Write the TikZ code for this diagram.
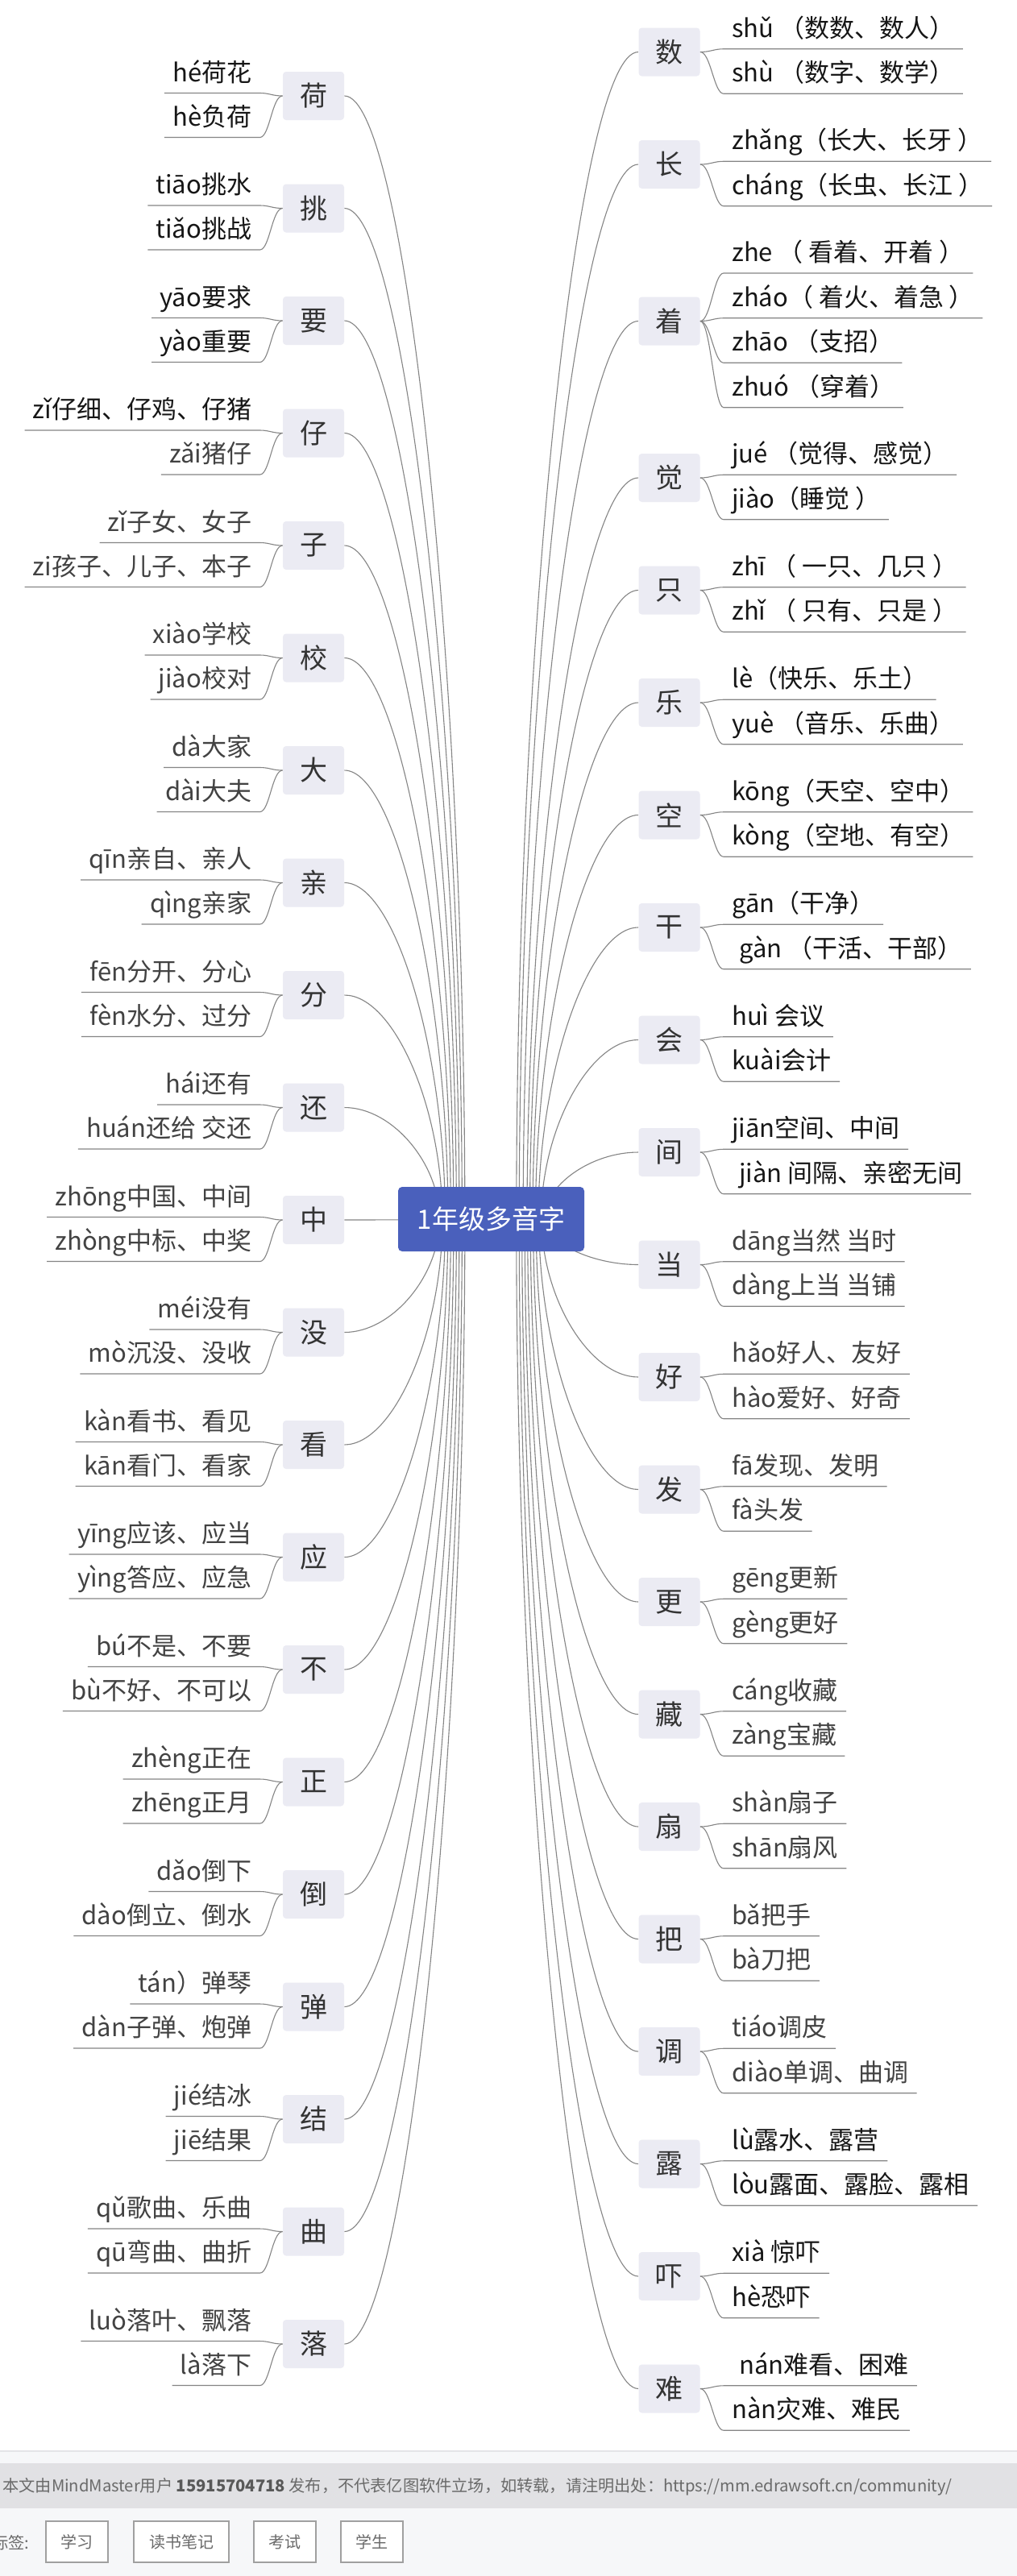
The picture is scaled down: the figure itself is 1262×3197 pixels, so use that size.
\documentclass[tikz,border=0pt]{standalone}
\usepackage{fontspec}
\setmainfont{Noto Sans CJK SC}
\usepackage{xcolor}
\usetikzlibrary{calc}
\usetikzlibrary{backgrounds}

\definecolor{boxfill}{HTML}{EBEBF3}
\definecolor{rootblue}{HTML}{4A60BC}
\definecolor{lineclr}{HTML}{858585}
\definecolor{chartext}{HTML}{333333}
\definecolor{inkA}{HTML}{161616}
\definecolor{inkB}{HTML}{424242}
\definecolor{footbg}{HTML}{F6F7F9}
\definecolor{footband}{HTML}{E1E1E4}
\definecolor{sepclr}{HTML}{E3E4E7}
\definecolor{tagline}{HTML}{A0A0A0}
\definecolor{footgrey}{HTML}{6A6A6A}

\newcommand{\leaffont}{\fontsize{15.5pt}{18pt}\selectfont}
\newcommand{\charfont}{\fontsize{17pt}{20pt}\selectfont}
\newcommand{\rootfont}{\fontsize{16.5pt}{20pt}\selectfont}
\newcommand{\footfont}{\fontsize{10.1pt}{12pt}\selectfont}

\tikzset{
  charbox/.style={fill=boxfill, rounded corners=2pt, minimum width=38pt, minimum height=30pt, inner sep=0pt, text=chartext, font=\charfont},
  rootbox/.style={fill=rootblue, rounded corners=2.5pt, minimum width=115.5pt, minimum height=40pt, inner sep=0pt, text=white, font=\rootfont},
  leaf/.style={inner xsep=5pt, inner ysep=7pt, text depth=0pt, font=\leaffont},
  leafline/.style={draw=lineclr, line width=0.55pt},
  mainline/.style={draw=lineclr, line width=0.55pt},
  tagbox/.style={draw=tagline, line width=0.85pt, fill=white, minimum height=25.5pt, inner sep=0pt, text=footgrey, font=\fontsize{10pt}{12pt}\selectfont},
  foottext/.style={inner sep=0pt, text=footgrey, font=\footfont}
}

% left character: name, y, character, upper reading, lower reading, colours
\newcommand{\leftchar}[7]{%
  \node[charbox] (#1) at (389,#2) {#3};
  \node[leaf, text=#6, anchor=south east] (#1-up) at ($(#1.west)+(-28,-3.5)$) {#4};
  \node[leaf, text=#7, anchor=south east] (#1-dn) at ($(#1.west)+(-28,51.5)$) {#5};
  \draw[leafline] (#1-up.south west) -- (#1-up.south east) .. controls +(12,0) and +(-13,0) .. (#1.west);
  \draw[leafline] (#1-dn.south west) -- (#1-dn.south east) .. controls +(12,0) and +(-13,0) .. (#1.west);
  \pgfmathsetmacro{\xstart}{542+0.025*abs(#2-1513)}
  \begin{scope}[on background layer]
    \draw[mainline] ($(root.center)+(\xstart-609.5,0)$) .. controls +(0,{(#2-1513)/2}) and +({(\xstart-427)/2},0) .. (#1.east);
  \end{scope}
}

% right character: main branch only
\newcommand{\rbranch}[2]{%
  \pgfmathsetmacro{\xstart}{677-0.025*abs(#2-1513)}
  \begin{scope}[on background layer]
    \draw[mainline] ($(root.center)+(\xstart-609.5,0)$) .. controls +(0,{(#2-1513)/2}) and +({-(793-\xstart)/2},0) .. (#1.west);
  \end{scope}
}

% right character: name, y, character, upper reading, lower reading, colours
\newcommand{\rightchar}[7]{%
  \node[charbox] (#1) at (830.5,#2) {#3};
  \node[leaf, text=#6, anchor=south west] (#1-up) at ($(#1.east)+(29,-3.75)$) {#4};
  \node[leaf, text=#7, anchor=south west] (#1-dn) at ($(#1.east)+(29,51.75)$) {#5};
  \draw[leafline] (#1.east) .. controls +(13,0) and +(-12,0) .. (#1-up.south west) -- (#1-up.south east);
  \draw[leafline] (#1.east) .. controls +(13,0) and +(-12,0) .. (#1-dn.south west) -- (#1-dn.south east);
  \rbranch{#1}{#2}
}

\begin{document}
\begin{tikzpicture}[x=0.5pt, y=-0.5pt]
		\useasboundingbox (0,0) rectangle (1262,3197);
		\clip (0,0) rectangle (1262,3197);
		\begin{scope}[on background layer]
			\fill[white] (0,0) rectangle (1262,3197);
		\end{scope}
		%
		%Mitte
		\node[rootbox] (root) at (609.5,1513) {1年级多音字};
		%
		%links
		\leftchar{he}{119}{荷}{hé荷花}{hè负荷}{inkA}{inkA}
		\leftchar{tiao}{258.5}{挑}{tiāo挑水}{tiǎo挑战}{inkA}{inkA}
		\leftchar{yao}{398}{要}{yāo要求}{yào重要}{inkA}{inkA}
		\leftchar{zai}{537.5}{仔}{zǐ仔细、仔鸡、仔猪}{zǎi猪仔}{inkA}{inkB}
		\leftchar{zi}{677}{子}{zǐ子女、女子}{zi孩子、儿子、本子}{inkB}{inkB}
		\leftchar{xiao}{816.5}{校}{xiào学校}{jiào校对}{inkB}{inkB}
		\leftchar{da}{956}{大}{dà大家}{dài大夫}{inkB}{inkB}
		\leftchar{qin}{1095.5}{亲}{qīn亲自、亲人}{qìng亲家}{inkB}{inkB}
		\leftchar{fen}{1235}{分}{fēn分开、分心}{fèn水分、过分}{inkB}{inkB}
		\leftchar{huan}{1374.5}{还}{hái还有}{huán还给 交还}{inkB}{inkB}
		\leftchar{zhong}{1514}{中}{zhōng中国、中间}{zhòng中标、中奖}{inkB}{inkB}
		\leftchar{mei}{1653.5}{没}{méi没有}{mò沉没、没收}{inkB}{inkB}
		\leftchar{kan}{1793}{看}{kàn看书、看见}{kān看门、看家}{inkB}{inkB}
		\leftchar{ying}{1932.5}{应}{yīng应该、应当}{yìng答应、应急}{inkB}{inkB}
		\leftchar{bu}{2072}{不}{bú不是、不要}{bù不好、不可以}{inkB}{inkB}
		\leftchar{zheng}{2211.5}{正}{zhèng正在}{zhēng正月}{inkB}{inkB}
		\leftchar{dao}{2351}{倒}{dǎo倒下}{dào倒立、倒水}{inkB}{inkB}
		\leftchar{tan}{2490.5}{弹}{tán）弹琴}{dàn子弹、炮弹}{inkB}{inkB}
		\leftchar{jie}{2630}{结}{jié结冰}{jiē结果}{inkB}{inkB}
		\leftchar{qu}{2769.5}{曲}{qǔ歌曲、乐曲}{qū弯曲、曲折}{inkB}{inkB}
		\leftchar{luo}{2909}{落}{luò落叶、飘落}{là落下}{inkB}{inkB}
		%
		%rechts
		\rightchar{shu}{64.5}{数}{shǔ （数数、数人）}{shù （数字、数学）}{inkA}{inkA}
		\rightchar{zhang}{204}{长}{zhǎng（长大、长牙 ）}{cháng（长虫、长江 ）}{inkA}{inkA}
		%
		%着
		\node[charbox] (zhao) at (830.5,398.5) {着};
		\node[leaf, text=inkA, anchor=south west] (zhao-1) at ($(zhao.east)+(29,-59.5)$) {zhe （ 看着、开着 ）};
		\node[leaf, text=inkA, anchor=south west] (zhao-2) at ($(zhao.east)+(29,-3.75)$) {zháo（ 着火、着急 ）};
		\node[leaf, text=inkA, anchor=south west] (zhao-3) at ($(zhao.east)+(29,51.75)$) {zhāo （支招）};
		\node[leaf, text=inkA, anchor=south west] (zhao-4) at ($(zhao.east)+(29,107.25)$) {zhuó （穿着）};
		\foreach \k in {1,...,4}
			\draw[leafline] (zhao.east) .. controls +(13,0) and +(-12,0) .. (zhao-\k.south west) -- (zhao-\k.south east);
		\rbranch{zhao}{398.5}
		%
		\rightchar{jue}{593}{觉}{jué （觉得、感觉）}{jiào（睡觉 ）}{inkA}{inkA}
		\rightchar{zhi}{732.5}{只}{zhī （ 一只、几只 ）}{zhǐ （ 只有、只是 ）}{inkA}{inkA}
		\rightchar{yue}{872}{乐}{lè（快乐、乐土）}{yuè （音乐、乐曲）}{inkA}{inkA}
		\rightchar{kong}{1011.5}{空}{kōng（天空、空中）}{kòng（空地、有空）}{inkA}{inkA}
		\rightchar{gan}{1151}{干}{gān（干净）}{\hspace*{4.5pt}gàn （干活、干部）}{inkA}{inkA}
		\rightchar{hui}{1290.5}{会}{huì 会议}{kuài会计}{inkA}{inkA}
		\rightchar{jian}{1430}{间}{jiān空间、中间}{\hspace*{4.5pt}jiàn 间隔、亲密无间}{inkA}{inkA}
		\rightchar{dang}{1569.5}{当}{dāng当然 当时}{dàng上当 当铺}{inkB}{inkB}
		\rightchar{hao}{1709}{好}{hǎo好人、友好}{hào爱好、好奇}{inkB}{inkB}
		\rightchar{fa}{1848.5}{发}{fā发现、发明}{fà头发}{inkB}{inkB}
		\rightchar{geng}{1988}{更}{gēng更新}{gèng更好}{inkB}{inkB}
		\rightchar{cang}{2127.5}{藏}{cáng收藏}{zàng宝藏}{inkB}{inkB}
		\rightchar{shan}{2267}{扇}{shàn扇子}{shān扇风}{inkB}{inkB}
		\rightchar{ba}{2406.5}{把}{bǎ把手}{bà刀把}{inkB}{inkB}
		\rightchar{diao}{2546}{调}{tiáo调皮}{diào单调、曲调}{inkB}{inkB}
		\rightchar{lu}{2685.5}{露}{lù露水、露营}{lòu露面、露脸、露相}{inkA}{inkA}
		\rightchar{xia}{2825}{吓}{xià 惊吓}{hè恐吓}{inkA}{inkA}
		\rightchar{nan}{2964.5}{难}{\hspace*{4.5pt}nán难看、困难}{nàn灾难、难民}{inkA}{inkA}
		%
		%Fusszeile
		\fill[footbg] (0,3042) rectangle (1262,3197);
		\draw[sepclr, line width=1pt] (0,3042) -- (1262,3042);
		\fill[footband] (0,3057) rectangle (1262,3113);
		\node[foottext, anchor=base west] (notice) at (3,3092) {本文由MindMaster用户 {\color{black!65}\textbf{15915704718}} 发布，不代表亿图软件立场，如转载，请注明出处：https://mm.edrawsoft.cn/community/};
		%
		%Tags
		\node[foottext, anchor=base east] (taglabel) at (37,3163) {标签:};
		\node[tagbox, minimum width=38.5pt] (tag1) at (95.5,3154.5) {学习};
		\node[tagbox, minimum width=59pt] (tag2) at (225,3154.5) {读书笔记};
		\node[tagbox, minimum width=38.5pt] (tag3) at (353.5,3154.5) {考试};
		\node[tagbox, minimum width=38.5pt] (tag4) at (461.5,3154.5) {学生};
	\end{tikzpicture}
\end{document}
